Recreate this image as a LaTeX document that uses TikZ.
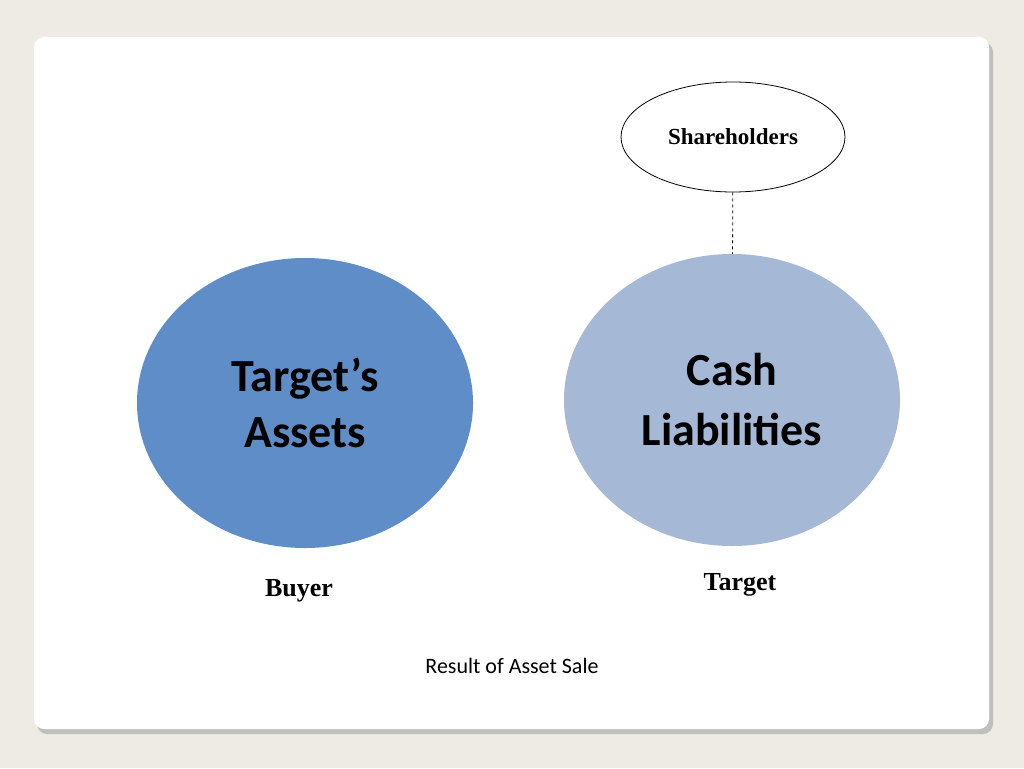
\documentclass[tikz,border=0pt]{standalone}
\usepackage{fontspec}
\setmainfont{Carlito}
\newfontfamily\serifb{Liberation Serif}
\usetikzlibrary{shapes.geometric,shadows}
\definecolor{bg}{HTML}{EDEBE3}
\definecolor{lblue}{HTML}{5F8DC8}
\definecolor{rblue}{HTML}{A5B8D6}
\begin{document}
\begin{tikzpicture}[x=1pt,y=-1pt,
  circ/.style={ellipse,minimum width=336pt,minimum height=290pt,align=center,font=\fontsize{46}{56}\selectfont\bfseries,inner sep=0pt},
  lab/.style={font=\serifb\fontsize{26}{30}\selectfont\bfseries}]
\fill[bg] (0,0) rectangle (1024,768);
\useasboundingbox (0,0) rectangle (1024,768);
\fill[black!25,rounded corners=10pt] (37,42) rectangle (993,734);
\fill[white,rounded corners=10pt] (34,37) rectangle (989,729);
\node[circ,fill=lblue] (ta) at (305,403) {Target's\\Assets};
\node[circ,fill=rblue,minimum height=292pt] (cl) at (732,400) {Cash\\[4pt]Liabilities};
\node[ellipse,draw,thick,fill=white,minimum width=224pt,minimum height=110pt,font=\serifb\fontsize{23}{26}\selectfont\bfseries] (sh) at (733,137) {Shareholders};
\draw[thick,dashed] (sh) -- (cl);
\node[lab] (buyer) at (299,591) {Buyer};
\node[lab] (target) at (740,585) {Target};
\node[font=\fontsize{22}{26}\selectfont] (res) at (512,666) {Result of Asset Sale};
\end{tikzpicture}
\end{document}
